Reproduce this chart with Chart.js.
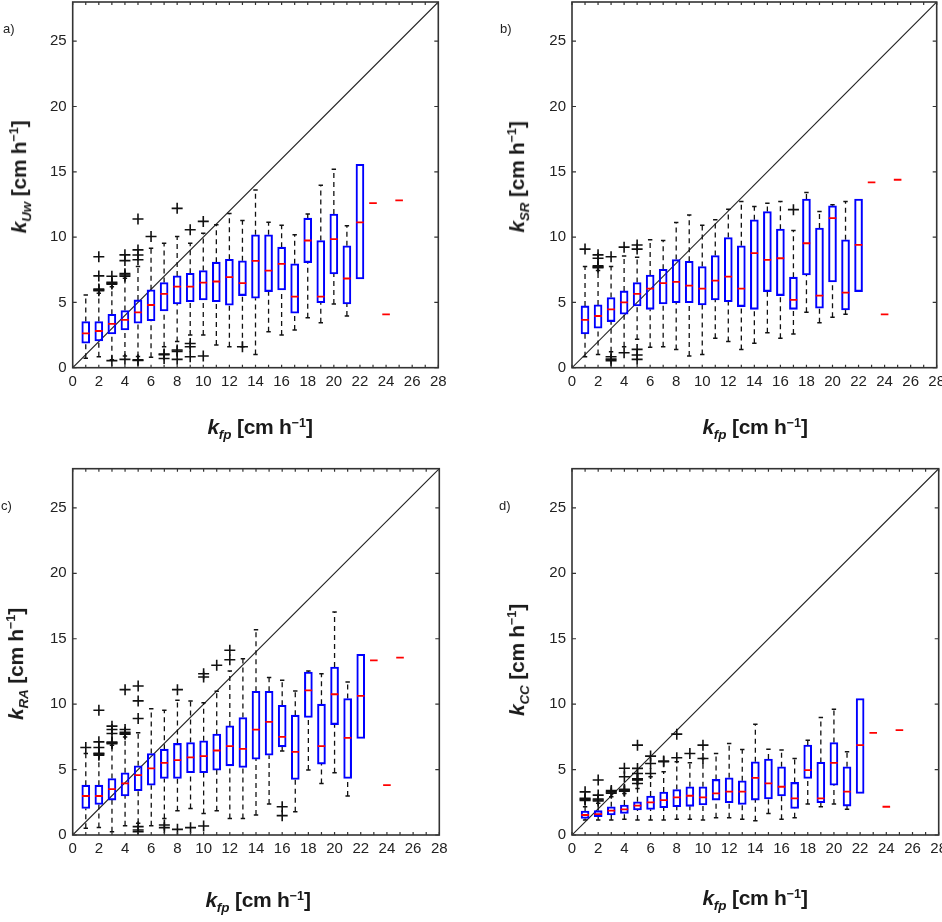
<!DOCTYPE html>
<html>
<head>
<meta charset="utf-8">
<script src="https://cdn.jsdelivr.net/npm/chart.js@4.4.1/dist/chart.umd.min.js"></script>
<style>
body{margin:0;background:#fff;overflow:hidden;font-family:"Liberation Sans",Arial,sans-serif;}
.cv{position:absolute;}
.t{position:absolute;font-weight:bold;font-size:21px;color:#1a1a1a;white-space:nowrap;line-height:1;letter-spacing:-0.3px;}
.t i{font-style:italic;}
.t sub{font-size:64%;vertical-align:-0.4em;letter-spacing:0;}
.t sup{font-size:60%;vertical-align:0.6em;letter-spacing:0;}
.yt{transform:translate(-50%,-50%) rotate(-90deg);}
.xt{transform:translate(-50%,-50%);}
.lab{position:absolute;font-size:13px;color:#222;}
</style>
</head>
<body>
<canvas id="ca" class="cv" width="471" height="460" style="left:0;top:0"></canvas>
<canvas id="cb" class="cv" width="471" height="460" style="left:471px;top:0"></canvas>
<canvas id="cc" class="cv" width="471" height="462" style="left:0;top:460px"></canvas>
<canvas id="cd" class="cv" width="471" height="462" style="left:471px;top:460px"></canvas>

<div class="lab" style="left:3px;top:21px">a)</div>
<div class="lab" style="left:500px;top:21px">b)</div>
<div class="lab" style="left:1px;top:498px">c)</div>
<div class="lab" style="left:499px;top:498px">d)</div>

<div class="t yt" style="left:21px;top:177px"><i>k<sub>Uw</sub></i> [cm h<sup>−1</sup>]</div>
<div class="t yt" style="left:519px;top:177px"><i>k<sub>SR</sub></i> [cm h<sup>−1</sup>]</div>
<div class="t yt" style="left:18px;top:664px"><i>k<sub>RA</sub></i> [cm h<sup>−1</sup>]</div>
<div class="t yt" style="left:519px;top:660px"><i>k<sub>CC</sub></i> [cm h<sup>−1</sup>]</div>

<div class="t xt" style="left:260px;top:429px"><i>k<sub>fp</sub></i> [cm h<sup>−1</sup>]</div>
<div class="t xt" style="left:755px;top:429px"><i>k<sub>fp</sub></i> [cm h<sup>−1</sup>]</div>
<div class="t xt" style="left:258px;top:902px"><i>k<sub>fp</sub></i> [cm h<sup>−1</sup>]</div>
<div class="t xt" style="left:755px;top:900px"><i>k<sub>fp</sub></i> [cm h<sup>−1</sup>]</div>

<script>
// k_fp bins (cm/h)
var bins=[1,2,3,4,5,6,7,8,9,10,11,12,13,14,15,16,17,18,19,20,21,22,23,24,25]
var xTicks=[0,2,4,6,8,10,12,14,16,18,20,22,24,26,28]
var yTicks=[0,5,10,15,20,25]

// a) k_Uw
var uwQ1=[1.87,2.05,2.58,2.89,3.40,3.60,4.35,4.88,5.06,5.19,5.06,4.78,5.52,5.32,5.83,5.96,4.17,8.05,4.98,7.18,4.88,6.80,null,null,null]
var uwMed=[2.63,2.81,3.35,3.66,4.24,4.80,5.65,6.21,6.21,6.52,6.60,6.93,6.47,8.18,7.44,7.95,5.44,9.74,5.44,9.84,6.83,11.12,12.60,4.09,12.81]
var uwQ3=[3.53,3.53,4.09,4.37,5.19,5.96,6.52,7.03,7.23,7.44,8.08,8.30,8.18,10.17,10.17,9.23,7.95,11.45,9.74,11.76,9.33,15.57,null,null,null]
var uwLo=[0.72,0.84,0.60,0.90,0.85,0.80,1.60,2.00,2.50,2.50,1.74,1.60,1.60,1.02,2.76,2.50,2.89,3.83,3.45,4.88,3.96,null,null,null,null]
var uwHi=[5.57,5.70,6.20,6.85,7.75,9.15,9.53,10.05,9.53,10.30,10.94,11.80,11.27,13.60,11.14,10.90,10.17,11.76,13.96,15.20,10.86,null,null,null,null]
var uwOutX=[2,2,2,2,2,3,3,3,3,3,4,4,4,4,4,4,5,5,5,5,5,5,6,7,7,7,8,8,8,8,9,9,9,9,10,10,13]
var uwOutY=[5.90,5.96,6.02,7.03,8.50,6.40,6.47,6.54,7.00,0.54,7.00,7.10,7.20,8.20,8.64,0.64,8.26,8.63,9.02,11.38,0.55,0.60,10.05,1.00,1.05,0.70,12.20,1.35,1.25,0.64,10.56,1.85,1.60,0.84,11.20,0.90,1.60]

// b) k_SR
var srQ1=[2.58,3.02,3.53,4.09,4.73,4.47,4.88,4.98,4.98,4.81,5.19,5.06,4.68,4.47,5.83,5.52,4.47,7.10,4.55,6.57,4.42,5.83,null,null,null]
var srMed=[3.66,3.96,4.47,5.00,5.65,6.06,6.47,6.57,6.29,6.06,6.67,6.98,6.06,8.77,8.26,8.38,5.19,9.53,5.52,11.45,5.75,9.41,14.19,4.09,14.39]
var srQ3=[4.73,4.81,5.37,5.88,6.52,7.10,7.54,8.28,8.15,7.75,8.59,9.97,9.33,11.32,11.96,10.61,6.93,12.91,10.69,12.40,9.79,12.91,null,null,null]
var srLo=[0.84,1.02,1.23,1.60,2.17,1.56,1.60,1.40,0.90,1.02,2.25,2.00,1.40,1.87,2.68,2.25,2.58,4.24,3.45,3.86,4.09,null,null,null,null]
var srHi=[7.75,7.44,7.75,8.56,8.46,9.80,9.74,11.12,11.70,10.90,11.32,12.14,12.73,12.35,12.60,12.73,10.50,13.42,11.96,12.47,12.73,null,null,null,null]
var srOutX=[1,2,2,2,2,2,3,3,3,3,4,4,5,5,5,5,5,17]
var srOutY=[9.08,7.65,7.72,7.80,8.38,8.64,8.50,0.84,0.66,0.54,9.23,1.15,9.40,9.08,1.40,0.97,0.64,12.10]

// c) k_RA
var raQ1=[2.03,2.34,2.67,2.98,3.38,3.81,4.32,4.32,4.76,4.76,4.96,5.29,5.16,5.80,6.10,6.74,4.25,8.98,5.42,8.44,4.32,7.38,null,null,null]
var raMed=[2.98,2.98,3.51,3.94,4.58,5.09,5.52,5.72,5.93,6.03,6.46,6.79,6.59,8.06,8.65,7.50,6.36,11.06,6.79,10.76,7.43,10.63,13.35,3.81,13.56]
var raQ3=[3.81,3.81,4.32,4.76,5.29,6.23,6.56,7.00,7.07,7.20,7.71,8.34,8.98,10.99,10.99,9.92,9.16,12.46,10.00,12.84,10.43,13.81,null,null,null]
var raLo=[0.51,0.58,0.25,0.71,0.90,0.71,1.27,1.86,2.03,1.65,1.86,1.27,1.27,1.53,2.37,6.43,1.78,4.96,3.94,4.76,2.98,null,null,null,null]
var raHi=[6.23,6.10,6.87,7.50,7.81,9.66,9.54,10.30,10.25,10.10,10.99,12.54,13.48,15.69,12.03,11.83,11.01,12.54,12.33,17.04,11.70,null,null,null,null]
var raOutX=[1,2,2,2,2,2,2,3,3,3,3,3,3,4,4,4,4,4,5,5,5,5,5,5,7,7,8,8,9,10,10,10,11,12,12,16,16]
var raOutY=[6.69,6.10,6.18,6.25,6.69,7.12,9.54,6.98,7.04,7.10,7.76,8.06,8.32,7.70,7.76,7.85,8.06,11.11,8.90,10.25,11.39,0.25,0.38,0.64,0.76,0.56,11.11,0.43,0.56,12.08,12.33,0.69,12.97,13.40,14.12,2.16,1.48]

// d) k_CC
var ccQ1=[1.27,1.40,1.53,1.65,1.91,1.96,2.09,2.16,2.19,2.29,2.67,2.47,2.34,2.67,2.75,2.98,2.03,4.32,2.47,3.81,2.21,3.18,null,null,null]
var ccMed=[1.53,1.60,1.86,1.96,2.24,2.49,2.67,2.87,3.00,2.87,3.18,3.31,3.31,4.37,3.94,3.69,2.80,4.96,2.80,5.52,3.31,6.87,7.81,2.16,8.01]
var ccQ3=[1.83,1.86,2.16,2.29,2.54,2.98,3.28,3.48,3.69,3.69,4.25,4.37,4.14,5.60,5.80,5.21,4.02,6.87,5.55,7.07,5.21,10.43,null,null,null]
var ccLo=[1.14,1.14,1.14,1.20,1.14,1.14,1.14,1.20,1.20,1.14,1.32,1.32,1.20,1.09,1.65,1.20,1.32,2.37,2.16,2.37,1.96,null,null,null,null]
var ccHi=[2.16,2.42,2.92,3.17,3.56,4.45,4.83,5.60,5.52,5.85,6.23,6.99,6.54,8.47,6.56,6.49,5.85,7.25,8.98,9.61,6.36,null,null,null,null]
var ccOutX=[1,1,1,1,2,2,2,2,2,3,3,3,4,4,4,4,4,5,5,5,5,5,5,5,6,6,6,7,7,8,8,9,10,10]
var ccOutY=[2.65,2.72,2.80,3.30,2.60,2.67,2.75,3.05,4.20,3.20,3.30,3.40,3.35,3.43,3.50,4.45,5.10,3.94,4.20,4.25,4.30,4.70,5.09,6.87,4.70,5.47,6.03,5.60,5.65,5.90,7.71,6.23,5.85,6.87]

//-----------------------------------------------------------------------------------------

// frame + inward ticks like the original figure
var framePlugin={
    id:"frame",
    afterDraw:function(chart){
        var ctx=chart.ctx, a=chart.chartArea, xs=chart.scales.x, ys=chart.scales.y
        ctx.save()
        ctx.strokeStyle="#333"
        ctx.lineWidth=1.2
        ctx.beginPath()
        for(var v=0;v<=28;v++){
            var px=xs.getPixelForValue(v)
            ctx.moveTo(px,a.bottom); ctx.lineTo(px,a.bottom-3)
            ctx.moveTo(px,a.top); ctx.lineTo(px,a.top+3)
        }
        for(var i=0;i<yTicks.length;i++){
            var py=ys.getPixelForValue(yTicks[i])
            ctx.moveTo(a.left,py); ctx.lineTo(a.left+4,py)
            ctx.moveTo(a.right,py); ctx.lineTo(a.right-4,py)
        }
        ctx.stroke()
        ctx.lineWidth=1.6
        ctx.strokeRect(a.left,a.top,a.right-a.left,a.bottom-a.top)
        ctx.restore()
    }
}

function drawpanel(id,q1,med,q3,lo,hi,outX,outY,lay){
    var boxes=[],meds=[],whisk=[],caps=[],outs=[]
    for(var i=0;i<bins.length;i++){
        if(q1[i]!=null) boxes.push({x:bins[i],y:[q1[i],q3[i]]})
        meds.push({x:bins[i],y:med[i]})
        if(lo[i]!=null){
            whisk.push({x:bins[i],y:lo[i]},{x:bins[i],y:q1[i]},{x:bins[i],y:null})
            whisk.push({x:bins[i],y:q3[i]},{x:bins[i],y:hi[i]},{x:bins[i],y:null})
            caps.push({x:bins[i],y:lo[i]},{x:bins[i],y:hi[i]})
        }
    }
    for(var j=0;j<outX.length;j++) outs.push({x:outX[j],y:outY[j]})

    var pad={left:0,top:lay.top,right:0,bottom:0}
    var ctx=document.getElementById(id).getContext("2d")
    var ch=new Chart(ctx,{
        type:"bar",
        data:{datasets:[
            {type:"scatter",data:meds,pointStyle:"line",pointRadius:3.8,pointBorderWidth:1.8,
             pointBorderColor:"#ff0000",pointBackgroundColor:"#ff0000"},
            {type:"bar",data:boxes,backgroundColor:"rgba(0,0,0,0)",borderColor:"#0000ff",
             borderWidth:1.4,borderSkipped:false,barThickness:8,grouped:false},
            {type:"scatter",data:caps,pointStyle:"line",pointRadius:2.2,pointBorderWidth:1.5,
             pointBorderColor:"#111"},
            {type:"line",data:whisk,borderColor:"#111",borderWidth:1.3,borderDash:[5,4],
             pointRadius:0,spanGaps:false,fill:false},
            {type:"scatter",data:outs,pointStyle:"cross",pointRadius:5.5,pointBorderWidth:1.6,
             pointBorderColor:"#111"},
            {type:"line",data:[{x:0,y:0},{x:28,y:28}],borderColor:"#222",borderWidth:1.1,
             pointRadius:0,fill:false}
        ]},
        options:{
            responsive:false,
            animation:false,
            layout:{padding:pad,autoPadding:false},
            plugins:{legend:{display:false},tooltip:{enabled:false}},
            scales:{
                x:{type:"linear",min:0,max:28,offset:false,
                   grid:{display:false,drawTicks:false},border:{display:false},
                   ticks:{stepSize:2,padding:5,color:"#222",font:{size:15,family:"Liberation Sans"}},
                   afterBuildTicks:function(s){s.ticks=xTicks.map(function(v){return {value:v}})},
                   afterFit:function(s){s.height=lay.xh;s.paddingLeft=0;s.paddingRight=0}},
                y:{type:"linear",min:0,max:28,
                   grid:{display:false,drawTicks:false},border:{display:false},
                   ticks:{padding:6,color:"#222",font:{size:15,family:"Liberation Sans"}},
                   afterBuildTicks:function(s){s.ticks=yTicks.map(function(v){return {value:v}})},
                   afterFit:function(s){s.width=lay.yw;s.paddingTop=0;s.paddingBottom=0}}
            }
        },
        plugins:[framePlugin]
    })

    // nudge the padding so the plot box lands where the original one is
    for(var k=0;k<2;k++){
        var a=ch.chartArea
        pad.top+=lay.top-a.top
        pad.left+=lay.left-a.left
        pad.right+=a.right-lay.right
        pad.bottom+=a.bottom-lay.bottom
        ch.options.layout.padding={left:pad.left,top:pad.top,right:pad.right,bottom:pad.bottom}
        ch.update()
    }
}

drawpanel("ca",uwQ1,uwMed,uwQ3,uwLo,uwHi,uwOutX,uwOutY,{yw:73,xh:85,left:72.7,top:2,right:438.3,bottom:367.7})
drawpanel("cb",srQ1,srMed,srQ3,srLo,srHi,srOutX,srOutY,{yw:101,xh:85,left:101,top:2,right:465.7,bottom:367.7})
drawpanel("cc",raQ1,raMed,raQ3,raLo,raHi,raOutX,raOutY,{yw:73,xh:80,left:72.7,top:8.7,right:439.3,bottom:375})
drawpanel("cd",ccQ1,ccMed,ccQ3,ccLo,ccHi,ccOutX,ccOutY,{yw:101,xh:80,left:101,top:8.7,right:467.7,bottom:375})
</script>
</body>
</html>
